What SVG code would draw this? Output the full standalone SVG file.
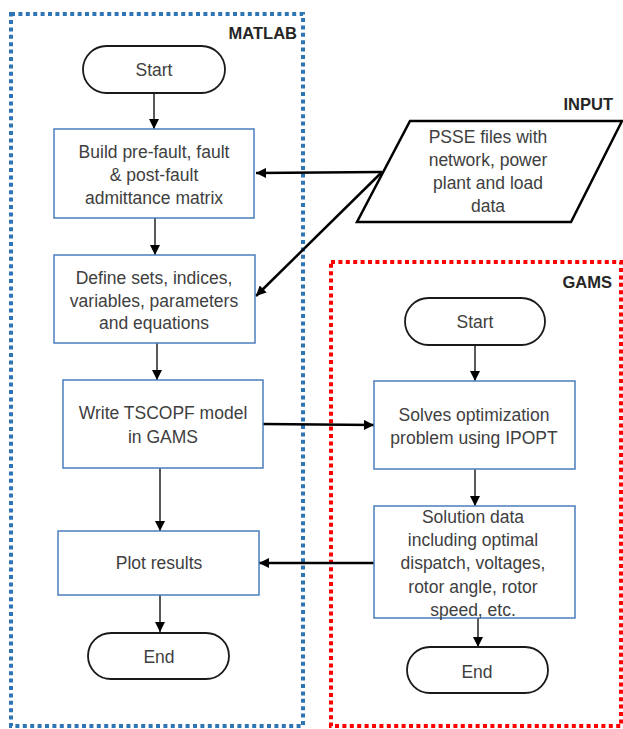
<svg xmlns="http://www.w3.org/2000/svg" width="623" height="729" viewBox="0 0 623 729">
<defs>
<style>
.lbl{font-family:"Liberation Sans",Arial,sans-serif;font-size:17.5px;fill:#404040;text-anchor:middle}
.ttl{font-family:"Liberation Sans",Arial,sans-serif;font-size:16.5px;font-weight:bold;fill:#262626;text-anchor:end}
.box{fill:#fff;stroke:#4A7EBB;stroke-width:1.5}
.term{fill:#fff;stroke:#1a1a1a;stroke-width:1.8}
.io{fill:#fff;stroke:#000;stroke-width:2.5}
.thin{stroke:#000;stroke-width:1.3;fill:none}
.thick{stroke:#000;stroke-width:2.5;fill:none}
</style>
<marker id="ah" viewBox="0 0 10 10" refX="10" refY="5" markerWidth="10" markerHeight="10" markerUnits="userSpaceOnUse" orient="auto">
<path d="M0,0 L10,5 L0,10 z" fill="#000"/>
</marker>
<marker id="ahb" viewBox="0 0 10 10" refX="10" refY="5" markerWidth="12" markerHeight="10" markerUnits="userSpaceOnUse" orient="auto">
<path d="M0,0 L10,5 L0,10 z" fill="#000"/>
</marker>
</defs>
<rect width="623" height="729" fill="#fff"/>
<g id="matlab-region">
<rect x="11" y="14" width="292" height="712" fill="none" stroke="#2E75B6" stroke-width="4" stroke-dasharray="4 3.4"/>
<text class="ttl" x="297" y="39">MATLAB</text>
</g>
<g id="gams-region">
<rect x="331" y="262" width="290" height="464" fill="none" stroke="#FF0000" stroke-width="4" stroke-dasharray="4 3.4"/>
<text class="ttl" x="612" y="288">GAMS</text>
</g>
<g id="input-label">
<text class="ttl" x="613" y="110">INPUT</text>
</g>
<g id="connectors">
<line class="thin" x1="154" y1="93" x2="154" y2="129" marker-end="url(#ah)"/>
<line class="thin" x1="155" y1="218" x2="155" y2="255" marker-end="url(#ah)"/>
<line class="thin" x1="157" y1="343" x2="157" y2="380" marker-end="url(#ah)"/>
<line class="thin" x1="160" y1="468" x2="160" y2="531" marker-end="url(#ah)"/>
<line class="thin" x1="160" y1="595" x2="160" y2="632" marker-end="url(#ah)"/>
<line class="thick" x1="382" y1="172" x2="256" y2="173" marker-end="url(#ahb)"/>
<line class="thick" x1="382" y1="172" x2="256" y2="296" marker-end="url(#ahb)"/>
<line class="thick" x1="263" y1="424" x2="374" y2="425" marker-end="url(#ahb)"/>
<line class="thin" x1="475" y1="345" x2="475" y2="381" marker-end="url(#ah)"/>
<line class="thin" x1="475" y1="469" x2="475" y2="506" marker-end="url(#ah)"/>
<line class="thick" x1="374" y1="563" x2="259" y2="563" marker-end="url(#ahb)"/>
<line class="thin" x1="478" y1="618" x2="478" y2="647" marker-end="url(#ah)"/>
</g>
<g id="matlab-start">
<rect class="term" x="83" y="46" width="142" height="47" rx="23.5"/>
<text class="lbl" x="154" y="76">Start</text>
</g>
<g id="build">
<rect class="box" x="54" y="129" width="200" height="89"/>
<text class="lbl" x="154" y="158">Build pre-fault, fault</text>
<text class="lbl" x="154" y="181">&amp; post-fault</text>
<text class="lbl" x="154" y="204">admittance matrix</text>
</g>
<g id="define">
<rect class="box" x="54" y="255" width="201" height="88"/>
<text class="lbl" x="154" y="284">Define sets, indices,</text>
<text class="lbl" x="154" y="307">variables, parameters</text>
<text class="lbl" x="154" y="329">and equations</text>
</g>
<g id="write">
<rect class="box" x="63" y="380" width="200" height="88"/>
<text class="lbl" x="163" y="419">Write TSCOPF model</text>
<text class="lbl" x="163" y="443">in GAMS</text>
</g>
<g id="plot">
<rect class="box" x="58" y="531" width="201" height="64"/>
<text class="lbl" x="159" y="569">Plot results</text>
</g>
<g id="matlab-end">
<rect class="term" x="88" y="633" width="141" height="46" rx="23"/>
<text class="lbl" x="159" y="663">End</text>
</g>
<g id="input">
<polygon class="io" points="410,121 622,121 571,222 357,222"/>
<text class="lbl" x="488" y="143">PSSE files with</text>
<text class="lbl" x="488" y="166">network, power</text>
<text class="lbl" x="488" y="189">plant and load</text>
<text class="lbl" x="488" y="212">data</text>
</g>
<g id="gams-start">
<rect class="term" x="405" y="298" width="140" height="47" rx="23.5"/>
<text class="lbl" x="475" y="328">Start</text>
</g>
<g id="solves">
<rect class="box" x="374" y="381" width="201" height="88"/>
<text class="lbl" x="474" y="421">Solves optimization</text>
<text class="lbl" x="474" y="444">problem using IPOPT</text>
</g>
<g id="solution">
<rect class="box" x="374" y="506" width="201" height="112"/>
<text class="lbl" x="473" y="523">Solution data</text>
<text class="lbl" x="473" y="546">including optimal</text>
<text class="lbl" x="473" y="569">dispatch, voltages,</text>
<text class="lbl" x="473" y="593">rotor angle, rotor</text>
<text class="lbl" x="473" y="616">speed, etc.</text>
</g>
<g id="gams-end">
<rect class="term" x="407" y="647" width="141" height="46" rx="23"/>
<text class="lbl" x="477" y="678">End</text>
</g>
</svg>
